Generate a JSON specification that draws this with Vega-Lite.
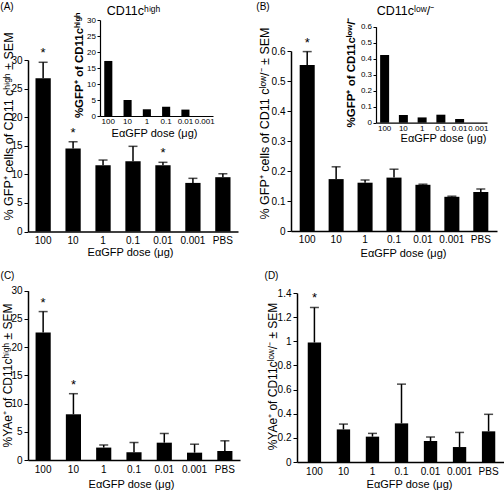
{
  "$schema": "https://vega.github.io/schema/vega-lite/v6.json",
  "width": 504,
  "height": 491,
  "autosize": {"type": "none"},
  "padding": 0,
  "config": {
    "view": {"stroke": null},
    "axis": {
      "labelFont": "Liberation Sans",
      "titleFont": "Liberation Sans",
      "labelColor": "#000",
      "titleColor": "#000",
      "domainColor": "#000",
      "tickColor": "#000",
      "grid": false,
      "titleFontWeight": "normal",
      "labelFontSize": 10,
      "titleFontSize": 11,
      "labelOverlap": false
    },
    "text": {"font": "Liberation Sans"}
  },
  "datasets": {
    "A": [
      {"dose": "100", "mean": 26.8, "hi": 29.6, "sig": "*"},
      {"dose": "10", "mean": 14.5, "hi": 15.7, "sig": "*"},
      {"dose": "1", "mean": 11.6, "hi": 12.5, "sig": ""},
      {"dose": "0.1", "mean": 12.3, "hi": 14.9, "sig": ""},
      {"dose": "0.01", "mean": 11.6, "hi": 12.1, "sig": "*"},
      {"dose": "0.001", "mean": 8.5, "hi": 9.3, "sig": ""},
      {"dose": "PBS", "mean": 9.5, "hi": 10.1, "sig": ""}
    ],
    "Ai": [
      {"dose": "100", "v": 17.2},
      {"dose": "10", "v": 5.0},
      {"dose": "1", "v": 2.1},
      {"dose": "0.1", "v": 2.9},
      {"dose": "0.01", "v": 2.0},
      {"dose": "0.001", "v": 0}
    ],
    "B": [
      {"dose": "100", "mean": 0.553, "hi": 0.598, "sig": "*"},
      {"dose": "10", "mean": 0.173, "hi": 0.214, "sig": ""},
      {"dose": "1", "mean": 0.161, "hi": 0.170, "sig": ""},
      {"dose": "0.1", "mean": 0.178, "hi": 0.206, "sig": ""},
      {"dose": "0.01", "mean": 0.154, "hi": 0.156, "sig": ""},
      {"dose": "0.001", "mean": 0.114, "hi": 0.116, "sig": ""},
      {"dose": "PBS", "mean": 0.130, "hi": 0.140, "sig": ""}
    ],
    "Bi": [
      {"dose": "100", "v": 0.423},
      {"dose": "10", "v": 0.048},
      {"dose": "1", "v": 0.033},
      {"dose": "0.1", "v": 0.05},
      {"dose": "0.01", "v": 0.023},
      {"dose": "0.001", "v": 0}
    ],
    "C": [
      {"dose": "100", "mean": 22.6, "hi": 26.3, "sig": "*"},
      {"dose": "10", "mean": 8.1, "hi": 11.75, "sig": "*"},
      {"dose": "1", "mean": 2.2, "hi": 2.66, "sig": ""},
      {"dose": "0.1", "mean": 1.36, "hi": 3.1, "sig": ""},
      {"dose": "0.01", "mean": 3.07, "hi": 4.7, "sig": ""},
      {"dose": "0.001", "mean": 1.3, "hi": 2.8, "sig": ""},
      {"dose": "PBS", "mean": 1.6, "hi": 3.4, "sig": ""}
    ],
    "D": [
      {"dose": "100", "mean": 0.99, "hi": 1.28, "sig": "*"},
      {"dose": "10", "mean": 0.27, "hi": 0.314, "sig": ""},
      {"dose": "1", "mean": 0.21, "hi": 0.237, "sig": ""},
      {"dose": "0.1", "mean": 0.32, "hi": 0.645, "sig": ""},
      {"dose": "0.01", "mean": 0.174, "hi": 0.207, "sig": ""},
      {"dose": "0.001", "mean": 0.124, "hi": 0.245, "sig": ""},
      {"dose": "PBS", "mean": 0.254, "hi": 0.395, "sig": ""}
    ]
  },
  "resolve": {"scale": {"x": "independent", "y": "independent"}, "axis": {"x": "independent", "y": "independent"}},
  "layer": [
    {
      "data": {"name": "A"},
      "resolve": {"axis": {"x": "independent", "y": "independent"}},
      "layer": [
        {
          "mark": {"type": "bar", "color": "#000"},
          "encoding": {
            "x": {"field": "dose", "type": "nominal", "sort": null,
              "scale": {"domain": ["100","10","1","0.1","0.01","0.001","PBS"], "range": [28, 238], "paddingInner": 0.49, "paddingOuter": 0.25},
              "axis": {"orient": "bottom", "offset": -259.5, "ticks": false, "tickSize": 0, "labelPadding": 3.5, "labelAngle": 0, "domainWidth": 1.5,
                "title": "EαGFP dose (μg)", "titleX": 130, "titleY": 20.5, "titleAlign": "center", "titleBaseline": "middle"}},
            "y": {"field": "mean", "type": "quantitative",
              "scale": {"domain": [0, 30], "range": [231.5, 60], "nice": false, "zero": false},
              "axis": {"orient": "left", "offset": -28, "values": [0,5,10,15,20,25,30], "format": "~g", "tickSize": 4, "labelPadding": 2, "domainWidth": 1.5,
                "title": "% GFP⁺ cells of CD11 cʰⁱᵍʰ ± SEM", "titleFontSize": 12.5, "titleAngle": -90, "titleAlign": "center", "titleBaseline": "middle", "titleX": -20, "titleY": 126}}
          }
        },
        {
          "mark": {"type": "rule", "color": "#000", "strokeWidth": 1.5},
          "encoding": {
            "x": {"field": "dose", "type": "nominal", "sort": null, "scale": {"domain": ["100","10","1","0.1","0.01","0.001","PBS"], "range": [28, 238], "paddingInner": 0.49, "paddingOuter": 0.25}, "axis": null},
            "y": {"field": "mean", "type": "quantitative", "scale": {"domain": [0, 30], "range": [231.5, 60], "nice": false, "zero": false}, "axis": null},
            "y2": {"field": "hi"}
          }
        },
        {
          "mark": {"type": "tick", "color": "#000", "thickness": 1.5, "size": 9, "orient": "horizontal"},
          "encoding": {
            "x": {"field": "dose", "type": "nominal", "sort": null, "scale": {"domain": ["100","10","1","0.1","0.01","0.001","PBS"], "range": [28, 238], "paddingInner": 0.49, "paddingOuter": 0.25}, "axis": null},
            "y": {"field": "hi", "type": "quantitative", "scale": {"domain": [0, 30], "range": [231.5, 60], "nice": false, "zero": false}, "axis": null}
          }
        },
        {
          "transform": [{"filter": "datum.sig == '*'"}],
          "mark": {"type": "text", "fontSize": 13, "dy": -5, "baseline": "alphabetic", "align": "center", "color": "#000"},
          "encoding": {
            "text": {"field": "sig"},
            "x": {"field": "dose", "type": "nominal", "sort": null, "scale": {"domain": ["100","10","1","0.1","0.01","0.001","PBS"], "range": [28, 238], "paddingInner": 0.49, "paddingOuter": 0.25},
              "axis": {"orient": "top", "offset": 0, "domain": false, "ticks": false, "labels": false, "title": "CD11cʰⁱᵍʰ", "titleFontSize": 12.5, "titleX": 133, "titleY": 14, "titleAlign": "center", "titleBaseline": "alphabetic", "titleAngle": 0}},
            "y": {"field": "hi", "type": "quantitative", "scale": {"domain": [0, 30], "range": [231.5, 60], "nice": false, "zero": false},
              "axis": {"orient": "left", "offset": 0, "domain": false, "ticks": false, "labels": false, "title": "(A)", "titleFontSize": 10, "titleX": 6.5, "titleY": 9, "titleAlign": "center", "titleBaseline": "alphabetic", "titleAngle": 0}}
          }
        }
      ]
    },
    {
      "data": {"name": "Ai"},
      "mark": {"type": "bar", "color": "#000"},
      "encoding": {
        "x": {"field": "dose", "type": "nominal", "sort": null,
          "scale": {"domain": ["100","10","1","0.1","0.01","0.001"], "range": [100, 213], "paddingInner": 0.58, "paddingOuter": 0.22},
          "axis": {"orient": "bottom", "offset": -375, "ticks": false, "tickSize": 0, "labelPadding": 1.5, "labelFontSize": 8, "labelAngle": 0, "domainWidth": 1.2,
            "title": "EαGFP dose (μg)", "titleFontSize": 11, "titleX": 154, "titleY": 17, "titleAlign": "center", "titleBaseline": "middle"}},
        "y": {"field": "v", "type": "quantitative",
          "scale": {"domain": [0, 30], "range": [116, 20], "nice": false, "zero": false},
          "axis": {"orient": "left", "offset": -100, "values": [0,5,10,15,20,25,30], "format": "~g", "tickSize": 3, "labelPadding": 1.5, "labelFontSize": 8, "domainWidth": 1.2,
            "title": "%GFP⁺ of  CD11cʰⁱᵍʰ", "titleFontWeight": "bold", "titleFontSize": 11.5, "titleAngle": -90, "titleAlign": "center", "titleBaseline": "middle", "titleX": -21, "titleY": 65}}
      }
    },
    {
      "data": {"name": "B"},
      "resolve": {"axis": {"x": "independent", "y": "independent"}},
      "layer": [
        {
          "mark": {"type": "bar", "color": "#000"},
          "encoding": {
            "x": {"field": "dose", "type": "nominal", "sort": null,
              "scale": {"domain": ["100","10","1","0.1","0.01","0.001","PBS"], "range": [291, 497], "paddingInner": 0.48, "paddingOuter": 0.3},
              "axis": {"orient": "bottom", "offset": -260, "ticks": false, "tickSize": 0, "labelPadding": 3.5, "labelAngle": 0, "domainWidth": 1.5,
                "title": "EαGFP dose (μg)", "titleX": 403, "titleY": 22, "titleAlign": "center", "titleBaseline": "middle"}},
            "y": {"field": "mean", "type": "quantitative",
              "scale": {"domain": [0, 0.6], "range": [231, 51], "nice": false, "zero": false},
              "axis": {"orient": "left", "offset": -291, "values": [0,0.1,0.2,0.3,0.4,0.5,0.6], "format": "~g", "tickSize": 4, "labelPadding": 2, "domainWidth": 1.5,
                "title": "% GFP⁺ cells of CD11 cˡᵒʷ/⁻ ± SEM", "titleFontSize": 12.5, "titleAngle": -90, "titleAlign": "center", "titleBaseline": "middle", "titleX": -27, "titleY": 123}}
          }
        },
        {
          "mark": {"type": "rule", "color": "#000", "strokeWidth": 1.5},
          "encoding": {
            "x": {"field": "dose", "type": "nominal", "sort": null, "scale": {"domain": ["100","10","1","0.1","0.01","0.001","PBS"], "range": [291, 497], "paddingInner": 0.48, "paddingOuter": 0.3}, "axis": null},
            "y": {"field": "mean", "type": "quantitative", "scale": {"domain": [0, 0.6], "range": [231, 51], "nice": false, "zero": false}, "axis": null},
            "y2": {"field": "hi"}
          }
        },
        {
          "mark": {"type": "tick", "color": "#000", "thickness": 1.5, "size": 9, "orient": "horizontal"},
          "encoding": {
            "x": {"field": "dose", "type": "nominal", "sort": null, "scale": {"domain": ["100","10","1","0.1","0.01","0.001","PBS"], "range": [291, 497], "paddingInner": 0.48, "paddingOuter": 0.3}, "axis": null},
            "y": {"field": "hi", "type": "quantitative", "scale": {"domain": [0, 0.6], "range": [231, 51], "nice": false, "zero": false}, "axis": null}
          }
        },
        {
          "transform": [{"filter": "datum.sig == '*'"}],
          "mark": {"type": "text", "fontSize": 13, "dy": -5, "baseline": "alphabetic", "align": "center", "color": "#000"},
          "encoding": {
            "text": {"field": "sig"},
            "x": {"field": "dose", "type": "nominal", "sort": null, "scale": {"domain": ["100","10","1","0.1","0.01","0.001","PBS"], "range": [291, 497], "paddingInner": 0.48, "paddingOuter": 0.3},
              "axis": {"orient": "top", "offset": 0, "domain": false, "ticks": false, "labels": false, "title": "CD11cˡᵒʷ/⁻", "titleFontSize": 12.5, "titleX": 405, "titleY": 14, "titleAlign": "center", "titleBaseline": "alphabetic", "titleAngle": 0}},
            "y": {"field": "hi", "type": "quantitative", "scale": {"domain": [0, 0.6], "range": [231, 51], "nice": false, "zero": false},
              "axis": {"orient": "left", "offset": 0, "domain": false, "ticks": false, "labels": false, "title": "(B)", "titleFontSize": 10, "titleX": 262.5, "titleY": 9, "titleAlign": "center", "titleBaseline": "alphabetic", "titleAngle": 0}}
          }
        }
      ]
    },
    {
      "data": {"name": "Bi"},
      "mark": {"type": "bar", "color": "#000"},
      "encoding": {
        "x": {"field": "dose", "type": "nominal", "sort": null,
          "scale": {"domain": ["100","10","1","0.1","0.01","0.001"], "range": [376, 487], "paddingInner": 0.52, "paddingOuter": 0.22},
          "axis": {"orient": "bottom", "offset": -368.3, "ticks": false, "tickSize": 0, "labelPadding": 1.5, "labelFontSize": 8, "labelAngle": 0, "domainWidth": 1.2,
            "title": "EαGFP dose (μg)", "titleFontSize": 11, "titleX": 443, "titleY": 16, "titleAlign": "center", "titleBaseline": "middle"}},
        "y": {"field": "v", "type": "quantitative",
          "scale": {"domain": [0, 0.6], "range": [122.7, 26.7], "nice": false, "zero": false},
          "axis": {"orient": "left", "offset": -376, "values": [0,0.1,0.2,0.3,0.4,0.5,0.6], "format": "~g", "tickSize": 3, "labelPadding": 1.5, "labelFontSize": 8, "domainWidth": 1.2,
            "title": "%GFP⁺ of  CD11cˡᵒʷ/⁻", "titleFontWeight": "bold", "titleFontSize": 11.5, "titleAngle": -90, "titleAlign": "center", "titleBaseline": "middle", "titleX": -25, "titleY": 72}}
      }
    },
    {
      "data": {"name": "C"},
      "resolve": {"axis": {"x": "independent", "y": "independent"}},
      "layer": [
        {
          "mark": {"type": "bar", "color": "#000"},
          "encoding": {
            "x": {"field": "dose", "type": "nominal", "sort": null,
              "scale": {"domain": ["100","10","1","0.1","0.01","0.001","PBS"], "range": [28, 240], "paddingInner": 0.5, "paddingOuter": 0.25},
              "axis": {"orient": "bottom", "offset": -31, "ticks": false, "tickSize": 0, "labelPadding": 4, "labelAngle": 0, "domainWidth": 1.5,
                "title": "EαGFP dose (μg)", "titleX": 131, "titleY": 24, "titleAlign": "center", "titleBaseline": "middle"}},
            "y": {"field": "mean", "type": "quantitative",
              "scale": {"domain": [0, 30], "range": [460, 290.7], "nice": false, "zero": false},
              "axis": {"orient": "left", "offset": -28, "values": [0,5,10,15,20,25,30], "format": "~g", "tickSize": 4, "labelPadding": 2, "domainWidth": 1.5,
                "title": "%YAe⁺ of CD11cʰⁱᵍʰ ± SEM", "titleFontSize": 12, "titleAngle": -90, "titleAlign": "center", "titleBaseline": "middle", "titleX": -20.5, "titleY": 375}}
          }
        },
        {
          "mark": {"type": "rule", "color": "#000", "strokeWidth": 1.5},
          "encoding": {
            "x": {"field": "dose", "type": "nominal", "sort": null, "scale": {"domain": ["100","10","1","0.1","0.01","0.001","PBS"], "range": [28, 240], "paddingInner": 0.5, "paddingOuter": 0.25}, "axis": null},
            "y": {"field": "mean", "type": "quantitative", "scale": {"domain": [0, 30], "range": [460, 290.7], "nice": false, "zero": false}, "axis": null},
            "y2": {"field": "hi"}
          }
        },
        {
          "mark": {"type": "tick", "color": "#000", "thickness": 1.5, "size": 9, "orient": "horizontal"},
          "encoding": {
            "x": {"field": "dose", "type": "nominal", "sort": null, "scale": {"domain": ["100","10","1","0.1","0.01","0.001","PBS"], "range": [28, 240], "paddingInner": 0.5, "paddingOuter": 0.25}, "axis": null},
            "y": {"field": "hi", "type": "quantitative", "scale": {"domain": [0, 30], "range": [460, 290.7], "nice": false, "zero": false}, "axis": null}
          }
        },
        {
          "transform": [{"filter": "datum.sig == '*'"}],
          "mark": {"type": "text", "fontSize": 13, "dy": -5, "baseline": "alphabetic", "align": "center", "color": "#000"},
          "encoding": {
            "text": {"field": "sig"},
            "x": {"field": "dose", "type": "nominal", "sort": null, "scale": {"domain": ["100","10","1","0.1","0.01","0.001","PBS"], "range": [28, 240], "paddingInner": 0.5, "paddingOuter": 0.25}, "axis": null},
            "y": {"field": "hi", "type": "quantitative", "scale": {"domain": [0, 30], "range": [460, 290.7], "nice": false, "zero": false},
              "axis": {"orient": "left", "offset": 0, "domain": false, "ticks": false, "labels": false, "title": "(C)", "titleFontSize": 10, "titleX": 7, "titleY": 278, "titleAlign": "center", "titleBaseline": "alphabetic", "titleAngle": 0}}
          }
        }
      ]
    },
    {
      "data": {"name": "D"},
      "resolve": {"axis": {"x": "independent", "y": "independent"}},
      "layer": [
        {
          "mark": {"type": "bar", "color": "#000"},
          "encoding": {
            "x": {"field": "dose", "type": "nominal", "sort": null,
              "scale": {"domain": ["100","10","1","0.1","0.01","0.001","PBS"], "range": [297, 506], "paddingInner": 0.54, "paddingOuter": 0.37},
              "axis": {"orient": "bottom", "offset": -29, "ticks": false, "tickSize": 0, "labelPadding": 4, "labelAngle": 0, "domainWidth": 1.5,
                "title": "EαGFP dose (μg)", "titleX": 409, "titleY": 22, "titleAlign": "center", "titleBaseline": "middle"}},
            "y": {"field": "mean", "type": "quantitative",
              "scale": {"domain": [0, 1.4], "range": [462, 293], "nice": false, "zero": false},
              "axis": {"orient": "left", "offset": -297, "values": [0,0.2,0.4,0.6,0.8,1,1.2,1.4], "format": "~g", "tickSize": 4, "labelPadding": 2, "domainWidth": 1.5,
                "title": "%YAe⁺ of CD11cˡᵒʷ/⁻ ± SEM", "titleFontSize": 12, "titleAngle": -90, "titleAlign": "center", "titleBaseline": "middle", "titleX": -24.5, "titleY": 376}}
          }
        },
        {
          "mark": {"type": "rule", "color": "#000", "strokeWidth": 1.5},
          "encoding": {
            "x": {"field": "dose", "type": "nominal", "sort": null, "scale": {"domain": ["100","10","1","0.1","0.01","0.001","PBS"], "range": [297, 506], "paddingInner": 0.54, "paddingOuter": 0.37}, "axis": null},
            "y": {"field": "mean", "type": "quantitative", "scale": {"domain": [0, 1.4], "range": [462, 293], "nice": false, "zero": false}, "axis": null},
            "y2": {"field": "hi"}
          }
        },
        {
          "mark": {"type": "tick", "color": "#000", "thickness": 1.5, "size": 9, "orient": "horizontal"},
          "encoding": {
            "x": {"field": "dose", "type": "nominal", "sort": null, "scale": {"domain": ["100","10","1","0.1","0.01","0.001","PBS"], "range": [297, 506], "paddingInner": 0.54, "paddingOuter": 0.37}, "axis": null},
            "y": {"field": "hi", "type": "quantitative", "scale": {"domain": [0, 1.4], "range": [462, 293], "nice": false, "zero": false}, "axis": null}
          }
        },
        {
          "transform": [{"filter": "datum.sig == '*'"}],
          "mark": {"type": "text", "fontSize": 13, "dy": -5, "baseline": "alphabetic", "align": "center", "color": "#000"},
          "encoding": {
            "text": {"field": "sig"},
            "x": {"field": "dose", "type": "nominal", "sort": null, "scale": {"domain": ["100","10","1","0.1","0.01","0.001","PBS"], "range": [297, 506], "paddingInner": 0.54, "paddingOuter": 0.37}, "axis": null},
            "y": {"field": "hi", "type": "quantitative", "scale": {"domain": [0, 1.4], "range": [462, 293], "nice": false, "zero": false},
              "axis": {"orient": "left", "offset": 0, "domain": false, "ticks": false, "labels": false, "title": "(D)", "titleFontSize": 10, "titleX": 271, "titleY": 278, "titleAlign": "center", "titleBaseline": "alphabetic", "titleAngle": 0}}
          }
        }
      ]
    }
  ]
}
